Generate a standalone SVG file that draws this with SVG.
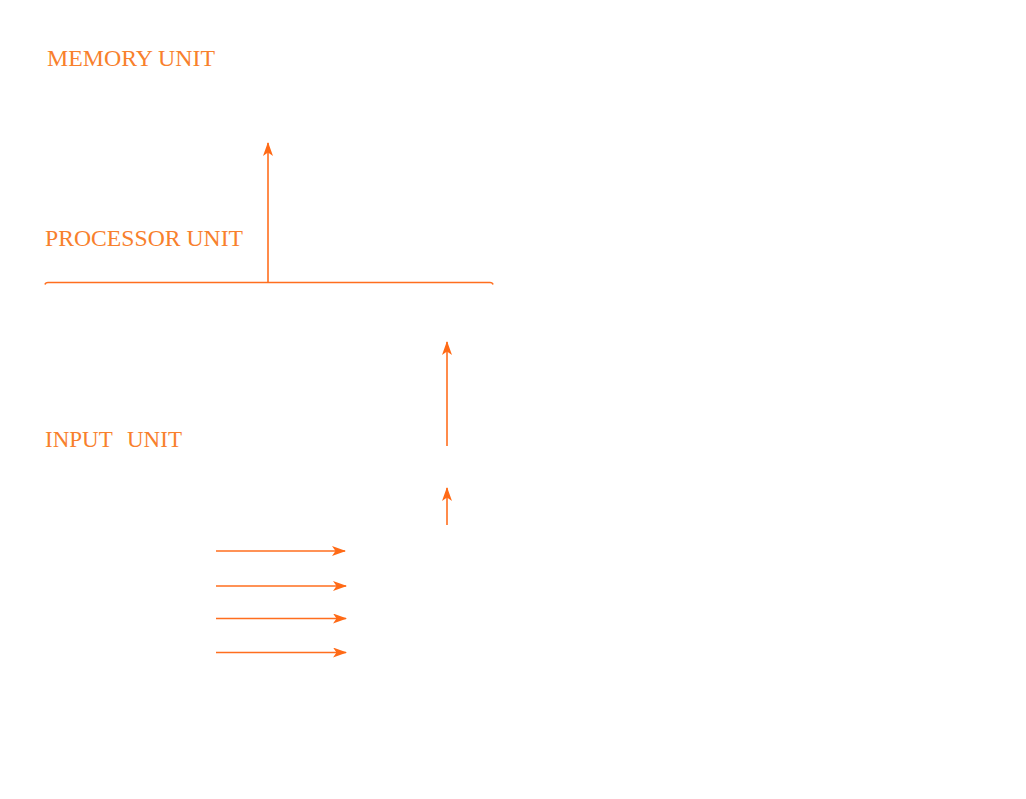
<svg xmlns="http://www.w3.org/2000/svg" width="1026" height="799" viewBox="0 0 1026 799">
<style>
.lbl{font-family:"Liberation Serif","Times New Roman",serif;font-size:23px;fill:#F8802C}
.ln{stroke:#FF6E1E;stroke-width:1.6;fill:none}
</style>
<defs>
<marker id="ah" viewBox="0 0 14 10" refX="13" refY="5" markerUnits="userSpaceOnUse" markerWidth="14" markerHeight="10" orient="auto">
<path d="M0,0 L14,5 L0,10 L3.5,5 Z" fill="#FF6A16"/>
</marker>
</defs>
<rect width="1026" height="799" fill="#fff"/>
<g id="memory-unit"><text class="lbl" x="47" y="66" textLength="168" lengthAdjust="spacingAndGlyphs">MEMORY UNIT</text></g>
<g id="processor-unit">
<text class="lbl" x="45" y="246" textLength="198" lengthAdjust="spacingAndGlyphs">PROCESSOR UNIT</text>
<path class="ln" d="M45,284.5 Q45.5,282.5 48,282.5 L490,282.5 Q492.5,282.5 493,284.5"/>
</g>
<g id="input-unit"><text class="lbl" x="45" y="447">INPUT<tspan x="127">UNIT</tspan></text></g>
<g id="connectors">
<line class="ln" x1="268" y1="282" x2="268" y2="143" marker-end="url(#ah)"/>
<line class="ln" x1="447" y1="446" x2="447" y2="342" marker-end="url(#ah)"/>
<line class="ln" x1="447" y1="525" x2="447" y2="488" marker-end="url(#ah)"/>
<line class="ln" x1="216" y1="551" x2="345" y2="551" marker-end="url(#ah)"/>
<line class="ln" x1="216" y1="586" x2="346" y2="586" marker-end="url(#ah)"/>
<line class="ln" x1="216" y1="618.5" x2="346" y2="618.5" marker-end="url(#ah)"/>
<line class="ln" x1="216" y1="652.5" x2="346" y2="652.5" marker-end="url(#ah)"/>
</g>
</svg>
